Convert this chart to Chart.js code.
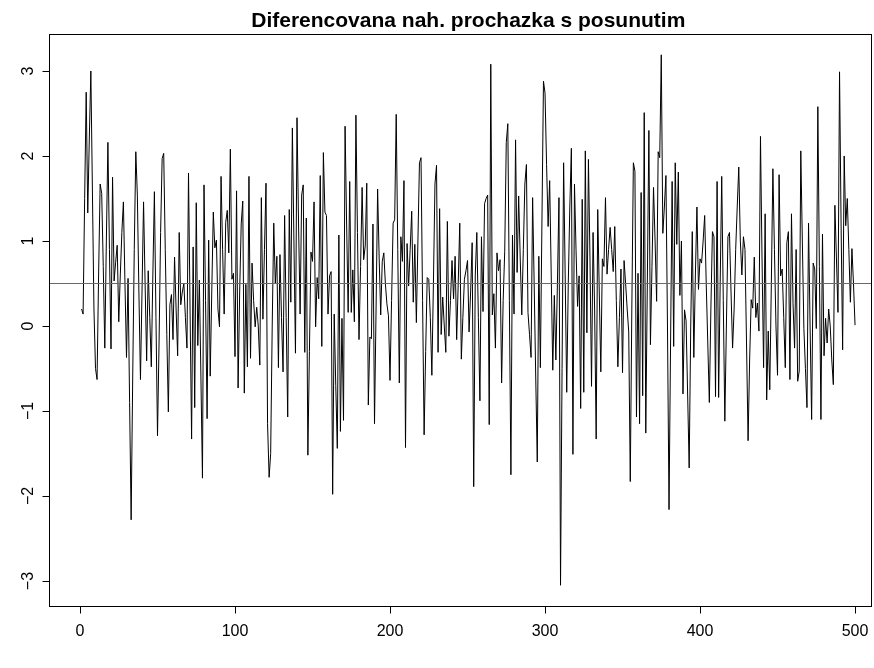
<!DOCTYPE html>
<html>
<head>
<meta charset="utf-8">
<script src="https://cdn.jsdelivr.net/npm/chart.js@4.4.1/dist/chart.umd.min.js"></script>
<style>
  html, body { margin: 0; padding: 0; background: #fff; }
</style>
</head>
<body>
<canvas id="myChart" width="874" height="668"></canvas>
<script>
// differenced random walk with drift
var diffsA = [0.2, 0.14, 1.5, 2.75, 1.33, 2.2, 3.0, 1.6, 0.2, -0.5, -0.63, 0.6, 1.67, 1.56, 0.7, -0.26, 1.0, 2.16, 0.9, -0.27,
  1.75, 0.53, 0.75, 0.95, 0.05, 0.6, 1.1, 1.46, 0.5, -0.37, 0.56, -0.9, -2.28, -0.6, 0.9, 2.05, 1.54, 0.4, -0.63, 0.4,
  1.46, 0.5, -0.41, 0.65, 0.1, -0.48, 0.6, 1.58, 0.1, -1.29, -0.2, 1.1, 1.97, 2.03, 0.9, -0.1, -1.01, 0.25, 0.37, -0.16,
  0.81, 0.2, -0.35, 1.1, 0.25, 0.4, 0.5, 0.1, -0.26, 1.8, 0.2, -1.33, 0.93, -0.96, 1.45, -0.23, 0.54, -0.6, -1.79, 1.66,
  0.3, -1.09, 1.01, -0.59, 0.4, 1.34, 0.92, 1.01, 0.2, -0.01, 1.76, 0.9, 0.14, 1.22, 1.36, 0.86, 2.08, 0.55, 0.62, -0.36,
  1.59, -0.73, 0.4, 1.2, 1.47, -0.79, 0.49, -0.48, 1.76, -0.38, 0.74, 0.3, -0.01, 0.22, 0.0, -0.46, 1.51, 0.08, 0.9, 1.68,
  -1.15, -1.78, -1.5, 0.0, 1.21];
var diffsB = [0.5, 0.82, -0.49, 0.84, 0.1, -0.54, 1.3, 0.1, -1.07, 1.37, 0.28, 2.33, 1.0, -0.32, 2.45, 1.2, 0.14, 1.54, 1.66, -0.31,
  1.27, -1.52, -0.3, 0.87, 0.76, 1.46, -0.01, 0.57, 0.32, 1.77, -0.24, 2.04, 1.34, 1.3, 0.14, 0.59, 0.64, -1.98, 0.14, -0.7,
  -1.44, 1.07, -1.24, 0.09, -1.11, 2.35, 1.2, 0.16, 1.7, 0.16, 0.66, 0.05, 2.48, 1.1, -0.16, 0.7, 1.63, 0.78, 0.94, 1.68,
  -0.93, -0.13, -0.15, 1.2, -1.15, 0.2, 1.61, 0.8, 0.13, 0.76, 0.86, 0.5, 0.26, 0.12, -0.64, 0.3, 1.21, 1.25, 2.49, 0.9,
  -0.67, 1.05, 0.76, 1.71, -1.43, 0.97, 0.47, 0.9, 1.35, 0.28, 0.96, 0.04, 1.0, 1.92, 1.98, 0.3, -1.28, -0.3, 0.57, 0.55,
  0.1, -0.58, 0.5, 1.67, 1.89, -0.31, 1.38, -0.1, 0.34, 0.0, -0.31, 1.23, -0.12, 0.3, 0.77, 0.32, 0.82, -0.16, 0.5, 1.21,
  -0.39, 0.1, 0.55, 0.65, 0.77];
var diffsC = [-0.07, 0.4, 0.98, -1.89, 0.6, 1.1, 0.1, -0.88, 1.05, 0.17, 1.44, 1.5, 1.54, -1.16, 3.08, 0.13, 0.38, -0.26, 0.86, 0.65,
  0.78, -0.67, 0.3, 0.88, 2.16, 2.38, 0.3, -1.75, 1.07, 0.14, 2.19, 0.63, 1.53, 0.8, 0.13, 0.9, 1.67, 1.9, 0.16, -0.1,
  -0.37, 1.51, 0.5, -0.6, -1.6, 0.82, -0.49, 1.2, 2.88, 2.74, 1.9, 1.17, 1.71, 0.6, -0.52, 0.36, -0.4, 0.5, 1.51, -3.05,
  -0.5, 1.92, 0.6, -0.78, 0.5, 1.4, 2.09, -1.51, 1.67, 0.9, 0.23, 0.59, -0.97, 1.49, -0.78, 2.06, -0.08, 1.96, 0.8, -0.71,
  1.1, 0.2, -1.33, 1.37, 0.4, -0.54, 0.79, 0.7, 1.51, 0.61, 0.9, 1.16, 0.9, 0.64, 1.17, 0.3, -0.48, 0.1, 0.67, -0.55,
  0.77, 0.5, 0.2, -0.07, -1.83, 0.2, 1.92, 1.82, -1.07, 0.62, -1.15, 1.57, -0.82, 2.51, -1.26, 0.5, 2.3, -0.22, 0.7, 1.63,
  1.0, 0.29, 2.05, 1.98, 3.19];
var diffsD = [1.09, 1.4, 1.77, 0.0, -2.16, -0.2, 1.7, -0.24, 1.92, 0.96, 1.81, 0.36, 1.0, -0.8, 0.19, 0.06, -0.8, -1.67, 0.0, 1.11,
  -0.37, 0.6, 1.4, 0.43, 0.79, 0.74, 1.0, 1.3, 0.5, -0.2, -0.9, 0.2, 1.11, 1.05, -0.83, 1.7, -0.84, 0.5, 1.76, 0.3,
  -1.12, 0.0, 1.05, 1.1, 0.4, -0.26, 0.2, 0.9, 1.4, 1.87, 1.0, 0.6, 1.05, 0.9, -0.2, -1.35, -0.4, 0.31, 0.21, 0.81,
  0.1, 0.27, -0.06, 2.23, 0.8, -0.49, 1.32, -0.87, -0.06, -0.75, 0.5, 1.85, 0.9, 0.0, -0.58, 1.78, 0.59, 0.67, 0.1, -0.49,
  0.98, 1.11, -0.63, 1.32, 0.26, -0.26, 0.9, -0.65, -0.53, 2.06, 1.0, -0.03, -0.5, -0.96, 1.21, 0.0, -1.1, 0.74, 0.67, -0.03,
  2.58, 0.7, -1.1, 1.08, -0.35, 0.09, -0.2, 0.2, 0.0, -0.4, -0.69, 1.42, 0.8, 0.16, 2.99, 1.2, -0.28, 2.0, 1.18, 1.5,
  0.9, 0.28, 0.91, 0.5, 0.01];
var meanLevel = 0.5;
var xTicks = [0, 100, 200, 300, 400, 500];
var yTicks = [-3, -2, -1, 0, 1, 2, 3];
var titleText = 'Diferencovana nah. prochazka s posunutim';

var values = diffsA.concat(diffsB, diffsC, diffsD);
var points = values.map(function (v, i) { return { x: i + 1, y: v }; });
var xMin = -20, xMax = 510.3, yMin = -3.294, yMax = 3.435;
// R centres the main title on its plot region (index range padded by 4%)
var titleCentre = (values.length + 1) / 2;

var FONT = '"Liberation Sans", Arial, Helvetica, sans-serif';

// horizontal reference line (abline) at the mean level, on top of the series
var meanLine = {
  id: 'meanLine',
  afterDatasetsDraw: function (chart) {
    var ctx = chart.ctx, a = chart.chartArea;
    var py = Math.round(chart.scales.y.getPixelForValue(meanLevel)) + 0.5;
    ctx.save();
    ctx.strokeStyle = 'rgb(255, 0, 255)';
    ctx.lineWidth = 1.2;
    ctx.beginPath();
    ctx.moveTo(a.left, py);
    ctx.lineTo(a.right, py);
    ctx.stroke();
    ctx.restore();
  }
};

// R-style box, ticks and labels, placed through the chart's own scales
var rAxes = {
  id: 'rAxes',
  afterDraw: function (chart) {
    var ctx = chart.ctx, a = chart.chartArea;
    var xs = chart.scales.x, ys = chart.scales.y;
    ctx.save();
    ctx.strokeStyle = '#000';
    ctx.fillStyle = '#000';
    ctx.lineWidth = 1;
    ctx.strokeRect(Math.round(a.left) + 0.5, Math.round(a.top) + 0.5,
      Math.round(a.right - a.left), Math.round(a.bottom - a.top));

    var by = Math.round(a.bottom) + 0.5;
    var x0 = xs.getPixelForValue(xTicks[0]), x1 = xs.getPixelForValue(xTicks[xTicks.length - 1]);
    ctx.beginPath();
    ctx.moveTo(x0, by); ctx.lineTo(x1, by);
    xTicks.forEach(function (t) {
      var px = Math.round(xs.getPixelForValue(t)) + 0.5;
      ctx.moveTo(px, by); ctx.lineTo(px, by + 7);
    });
    var lx = Math.round(a.left) + 0.5;
    var y0 = ys.getPixelForValue(yTicks[0]), y1 = ys.getPixelForValue(yTicks[yTicks.length - 1]);
    ctx.moveTo(lx, y0); ctx.lineTo(lx, y1);
    yTicks.forEach(function (t) {
      var py = Math.round(ys.getPixelForValue(t)) + 0.5;
      ctx.moveTo(lx, py); ctx.lineTo(lx - 7, py);
    });
    ctx.stroke();

    ctx.font = '16px ' + FONT;
    ctx.textAlign = 'center';
    ctx.textBaseline = 'middle';
    xTicks.forEach(function (t) {
      ctx.fillText(String(t), xs.getPixelForValue(t), a.bottom + 26);
    });
    yTicks.forEach(function (t) {
      ctx.save();
      ctx.translate(a.left - 20, ys.getPixelForValue(t));
      ctx.rotate(-Math.PI / 2);
      ctx.fillText(t < 0 ? '\u2212' + Math.abs(t) : String(t), 0, 0);
      ctx.restore();
    });

    ctx.font = 'bold 21px ' + FONT;
    ctx.fillText(titleText, xs.getPixelForValue(titleCentre), 21);
    ctx.restore();
  }
};

var ctx = document.getElementById('myChart').getContext('2d');
var myChart = new Chart(ctx, {
  type: 'line',
  data: {
    datasets: [{
      label: 'diff',
      data: points,
      borderColor: '#000000',
      borderWidth: 1,
      pointRadius: 0,
      tension: 0
    }]
  },
  options: {
    responsive: false,
    animation: false,
    devicePixelRatio: 1,
    layout: { padding: { left: 49, right: 3, top: 34, bottom: 62 } },
    scales: {
      x: { type: 'linear', min: xMin, max: xMax, display: false },
      y: { type: 'linear', min: yMin, max: yMax, display: false }
    },
    plugins: {
      legend: { display: false },
      tooltip: { enabled: false },
      title: { display: false }
    }
  },
  plugins: [meanLine, rAxes]
});
</script>
</body>
</html>
